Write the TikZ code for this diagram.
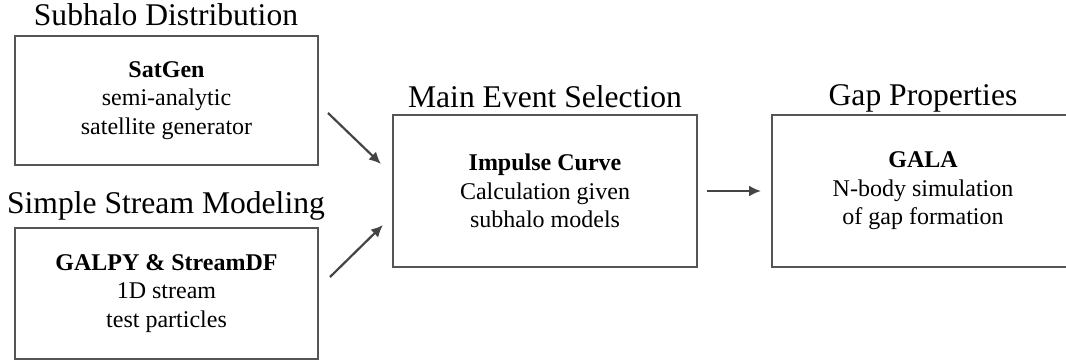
\documentclass[tikz,border=0pt]{standalone}
\usepackage{fontspec}
\setmainfont{Liberation Serif}
\usetikzlibrary{arrows.meta}
\definecolor{boxgray}{HTML}{555555}
\definecolor{arrgray}{HTML}{444444}
\begin{document}
\begin{tikzpicture}[x=1pt,y=1pt,
  stagebox/.style={draw=boxgray, line width=2pt, minimum width=#1, inner sep=0pt, align=center,
    font=\fontsize{24}{28.6}\selectfont},
  stagetitle/.style={anchor=base, font=\fontsize{31.6}{38}\selectfont},
  flowarrow/.style={draw=arrgray, line width=2.2pt, -{Latex[length=12pt,width=11pt]}}]
\useasboundingbox (0,0) rectangle (1066,360);
\node[stagebox=303pt, minimum height=129pt] (sat) at (166.5,259.5) {\textbf{SatGen}\\semi-analytic\\satellite generator};
\node[stagebox=303pt, minimum height=131pt] (gal) at (166.5,66.5) {\textbf{GALPY \& StreamDF}\\1D stream\\test particles};
\node[stagebox=304pt, minimum height=152pt] (imp) at (545,169) {\textbf{Impulse Curve}\\Calculation given\\subhalo models};
\node[stagebox=302pt, minimum height=152pt] (gala) at (923,169) {\textbf{GALA}\\N-body simulation\\of gap formation};
\node[stagetitle] (t1) at (166,335) {Subhalo Distribution};
\node[stagetitle] (t2) at (166,147) {Simple Stream Modeling};
\node[stagetitle] (t3) at (545,253) {Main Event Selection};
\node[stagetitle] (t4) at (923,255) {Gap Properties};
\coordinate (a1s) at (328,247);
\coordinate (a1e) at (381,196);
\coordinate (a2s) at (330,83);
\coordinate (a2e) at (383,135);
\coordinate (a3s) at (707,169);
\coordinate (a3e) at (761,169);
\draw[flowarrow] (a1s) -- (a1e);
\draw[flowarrow] (a2s) -- (a2e);
\draw[flowarrow] (a3s) -- (a3e);
\end{tikzpicture}
\end{document}
